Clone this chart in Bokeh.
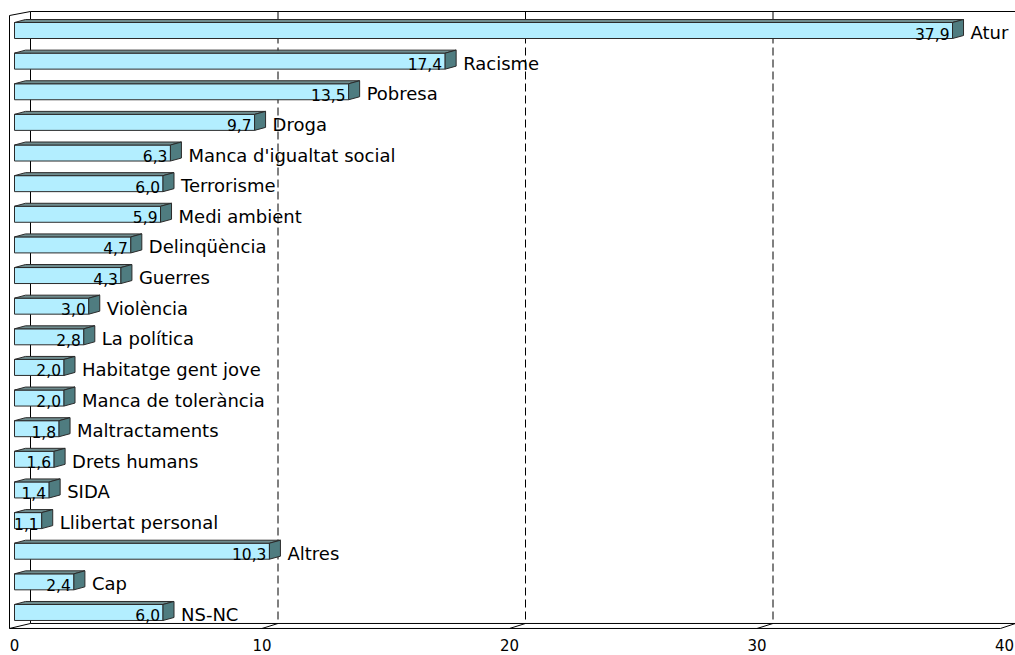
from bokeh.plotting import figure
from bokeh.models import Range1d, FixedTicker, ColumnDataSource
from bokeh.embed import file_html
from bokeh.resources import INLINE
from bokeh.core.properties import value

# ---------------- data ----------------
categories = ["Atur", "Racisme", "Pobresa", "Droga", "Manca d'igualtat social",
              "Terrorisme", "Medi ambient", "Delinqüència", "Guerres", "Violència",
              "La política", "Habitatge gent jove", "Manca de tolerància",
              "Maltractaments", "Drets humans", "SIDA", "Llibertat personal",
              "Altres", "Cap", "NS-NC"]
values = [37.9, 17.4, 13.5, 9.7, 6.3, 6.0, 5.9, 4.7, 4.3, 3.0,
          2.8, 2.0, 2.0, 1.8, 1.6, 1.4, 1.1, 10.3, 2.4, 6.0]
value_labels = [f"{v:.1f}".replace(".", ",") for v in values]
x_ticks = [0, 10, 20, 30, 40]
x_max = 40

# ---------------- geometry (pixels) ----------------
FW, FH = 1015, 630         # frame size
SX = 24.75                 # px per unit
X0 = 14                    # px position of value 0
ROW = 30.63                # px per category
Y0 = 30                    # px position of first category centre

def px_x(p):
    return p / SX

def px_y(p):
    return p / ROW

n = len(categories)
rows = list(range(n))
hb = px_y(8)                    # half bar height
bdx, bdy = px_x(11), px_y(-3)   # bar depth
wl = px_x(-5)                   # front-left wall edge
wdx = px_x(16)                  # wall depth
last = Y0 + (n - 1) * ROW
top_front = px_y(15 - Y0)
top_back = px_y(11 - Y0)
floor_front = px_y(last + 16 - Y0)
floor_back = px_y(last + 11 - Y0)

x_start, x_end = -X0 / SX, (FW - X0) / SX
p = figure(frame_width=FW, frame_height=FH,
           x_range=Range1d(x_start, x_end),
           y_range=Range1d(start=(FH - Y0) / ROW, end=-Y0 / ROW),
           output_backend="svg", toolbar_location=None, y_axis_location=None,
           min_border_left=0, min_border_right=0, min_border_top=0, min_border_bottom=0,
           background_fill_color="white", border_fill_color="white")
p.grid.visible = False
p.outline_line_color = None

LC = "#000000"
# walls / floor
p.segment(x0=[wl, wl, wl, wdx, wdx, wdx, wl, x_max - px_x(4)],
          y0=[top_front, top_front, floor_front, top_back, top_back, floor_back, floor_front, floor_front],
          x1=[wl, wdx, wdx, x_end, wdx, x_end, x_max - px_x(4), x_max + px_x(11)],
          y1=[floor_front, top_back, floor_back, top_back, floor_back, floor_back, floor_front, floor_back],
          line_color=LC, line_width=1)
# gridlines on back wall
gx = [t + wdx for t in x_ticks[1:-1]]
p.segment(x0=gx, y0=[top_back] * len(gx), x1=gx, y1=[floor_back] * len(gx),
          line_color=LC, line_width=1, line_dash="8 4")
p.segment(x0=x_ticks[1:-1], y0=[floor_front] * len(gx), x1=gx, y1=[floor_back] * len(gx),
          line_color=LC, line_width=1)

# bars
front_xs, front_ys, top_xs, top_ys, side_xs, side_ys = [], [], [], [], [], []
for i, v in zip(rows, values):
    t, b = i - hb, i + hb
    front_xs.append([0, v, v, 0]); front_ys.append([t, t, b, b])
    top_xs.append([0, v, v + bdx, bdx]); top_ys.append([t, t, t + bdy, t + bdy])
    side_xs.append([v, v + bdx, v + bdx, v]); side_ys.append([t, t + bdy, b + bdy, b])

OUT = "#2b2b2b"
p.patches(front_xs, front_ys, fill_color="#B3EEFF", line_color=OUT, line_width=1)
p.patches(top_xs, top_ys, fill_color="#6F8C8E", line_color=OUT, line_width=1)
p.patches(side_xs, side_ys, fill_color="#4F7C80", line_color=OUT, line_width=1)

src = ColumnDataSource(dict(v=values, vtip=[v + bdx for v in values],
                            vy=[i + px_y(3) for i in rows],
                            cy=[i + px_y(2) for i in rows],
                            lab=value_labels, cat=categories))
p.text(x="v", y="vy", text="lab", source=src, x_offset=-3,
       text_font=value("DejaVu Sans"), text_font_size="15.5px",
       text_align="right", text_baseline="middle", text_color="#000000")
p.text(x="vtip", y="cy", text="cat", source=src, x_offset=7,
       text_font=value("DejaVu Sans"), text_font_size="18px",
       text_align="left", text_baseline="middle", text_color="#000000")

ax = p.xaxis[0]
ax.ticker = FixedTicker(ticks=x_ticks)
ax.axis_line_color = None
ax.major_tick_line_color = None
ax.minor_tick_line_color = None
ax.major_label_standoff = 2
ax.major_label_text_font = "DejaVu Sans"
ax.major_label_text_font_size = "15px"
ax.major_label_text_color = "#000000"

open("out.html", "w").write(file_html(p, INLINE))
